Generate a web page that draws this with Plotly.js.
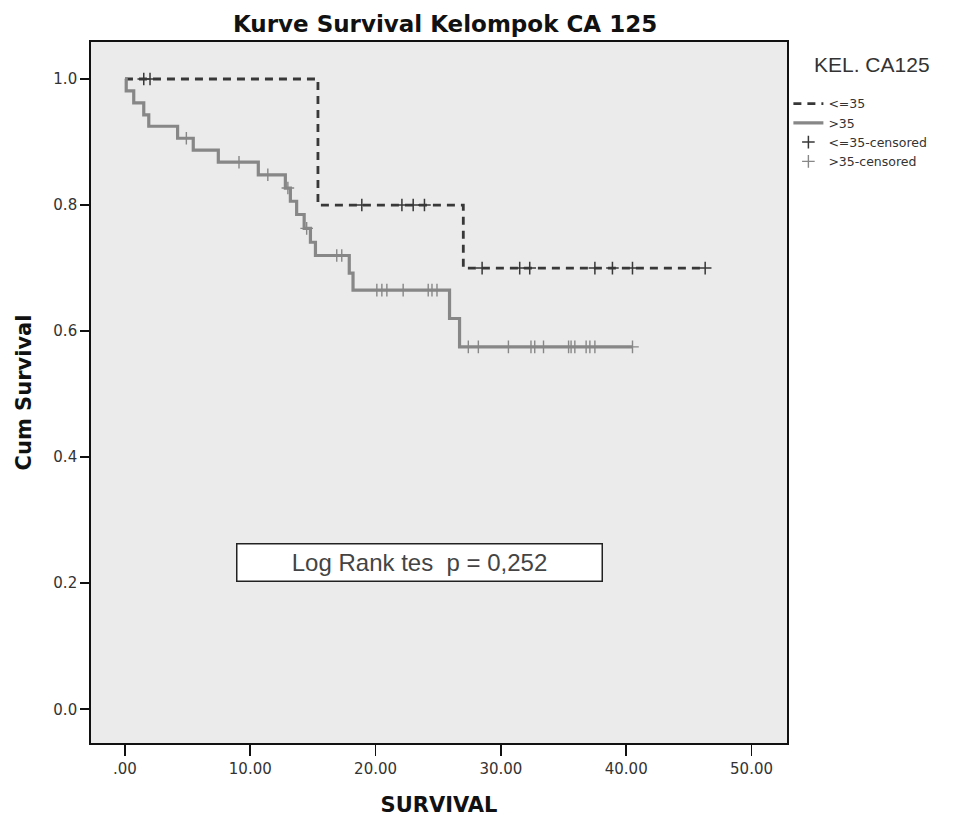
<!DOCTYPE html>
<html>
<head>
<meta charset="utf-8">
<script src="https://cdn.plot.ly/plotly-3.0.1.min.js"></script>
<style>html,body{margin:0;padding:0;background:#fff;}#chart{width:955px;height:819px;}</style>
</head>
<body>
<div id="chart"></div>
<script>
// Group "<=35" (step curve)
const lowTime = [0, 15.4, 27.0, 46.3];
const lowSurv = [1.0, 0.8, 0.7, 0.7];
// Group "<=35" censored
const lowCensTime = [1.5, 2.0, 18.9, 22.1, 23.0, 23.9, 28.5, 31.5, 32.3, 37.5, 38.9, 40.5, 46.3];
const lowCensSurv = [1.0, 1.0, 0.8, 0.8, 0.8, 0.8, 0.7, 0.7, 0.7, 0.7, 0.7, 0.7, 0.7];
// Group ">35" (step curve)
const highTime = [0, 0.1, 0.7, 1.5, 1.9, 4.2, 5.45, 7.45, 10.64, 12.8, 13.2, 13.7, 14.3, 14.8, 15.2, 17.9, 18.2, 25.9, 26.7, 40.5];
const highSurv = [1.0, 0.981, 0.962, 0.943, 0.925, 0.906, 0.887, 0.868, 0.848, 0.827, 0.806, 0.785, 0.763, 0.741, 0.72, 0.692, 0.665, 0.62, 0.575, 0.575];
// Group ">35" censored
const highCensTime = [4.9, 9.1, 11.4, 13.0, 14.5, 16.9, 17.3, 20.1, 20.5, 20.9, 22.2, 24.2, 24.5, 24.9, 27.4, 28.2, 30.6, 32.4, 32.7, 33.4, 35.4, 35.6, 35.9, 36.8, 37.1, 37.5, 40.5];
const highCensSurv = [0.906, 0.868, 0.848, 0.827, 0.763, 0.72, 0.72, 0.665, 0.665, 0.665, 0.665, 0.665, 0.665, 0.665, 0.575, 0.575, 0.575, 0.575, 0.575, 0.575, 0.575, 0.575, 0.575, 0.575, 0.575, 0.575, 0.575];

const seriesNames = ["<=35", ">35", "<=35-censored", ">35-censored"];
const xTickVals = [0, 10, 20, 30, 40, 50];
const xTickText = [".00", "10.00", "20.00", "30.00", "40.00", "50.00"];
const yTickVals = [0, 0.2, 0.4, 0.6, 0.8, 1.0];
const yTickText = ["0.0", "0.2", "0.4", "0.6", "0.8", "1.0"];
const titleText = "Kurve Survival Kelompok CA 125";
const xTitle = "SURVIVAL";
const yTitle = "Cum Survival";
const legendTitle = "KEL. CA125";
const noteText = "Log Rank tes  p = 0,252";

const darkCol = "#383838";
const grayCol = "#878787";
const font = "Liberation Sans, Arial, sans-serif";
const wide = "DejaVu Sans, Liberation Sans, sans-serif";

const traces = [
  {x: lowTime, y: lowSurv, name: seriesNames[0], mode: "lines", line: {shape: "hv", color: darkCol, width: 2.8, dash: "8px,6px"}},
  {x: highTime, y: highSurv, name: seriesNames[1], mode: "lines", line: {shape: "hv", color: grayCol, width: 3.2}},
  {x: lowCensTime, y: lowCensSurv, name: seriesNames[2], mode: "markers", marker: {symbol: "cross-thin", size: 9, line: {color: darkCol, width: 1.5}}},
  {x: highCensTime, y: highCensSurv, name: seriesNames[3], mode: "markers", marker: {symbol: "cross-thin", size: 9, line: {color: grayCol, width: 1.4}}}
];

const layout = {
  width: 955, height: 819,
  margin: {l: 91, r: 168, t: 42, b: 76},
  paper_bgcolor: "#ffffff",
  plot_bgcolor: "#ebebeb",
  font: {family: wide, color: "#333", size: 15},
  title: {text: "<b>" + titleText + "</b>", font: {family: wide, size: 23, color: "#111"}, x: 0.466, xanchor: "center", y: 0.971, yanchor: "middle"},
  xaxis: {
    range: [-2.71, 52.83], tickvals: xTickVals, ticktext: xTickText,
    showgrid: false, zeroline: false, showline: true, mirror: true,
    linecolor: "#111", linewidth: 1.8, ticks: "outside", ticklen: 11, tickwidth: 1.8, tickcolor: "#111",
    tickfont: {family: wide, size: 15, color: "#333"},
    title: {text: "<b>" + xTitle + "</b>", font: {family: wide, size: 21, color: "#111"}, standoff: 20}
  },
  yaxis: {
    range: [-0.0535, 1.0587], tickvals: yTickVals, ticktext: yTickText,
    showgrid: false, zeroline: false, showline: true, mirror: true,
    linecolor: "#111", linewidth: 1.8, ticks: "outside", ticklen: 9, tickwidth: 1.8, tickcolor: "#111",
    tickfont: {family: wide, size: 15, color: "#333"},
    title: {text: "<b>" + yTitle + "</b>", font: {family: wide, size: 21, color: "#111"}, standoff: 16}
  },
  showlegend: true,
  legend: {
    x: 1.002, xanchor: "left", y: 0.933, yanchor: "top",
    bgcolor: "rgba(0,0,0,0)", font: {family: wide, size: 12.5, color: "#333"},
    itemwidth: 30, tracegroupgap: 0
  },
  annotations: [
    {
      xref: "paper", yref: "paper", x: 1.122, y: 0.9686, xanchor: "center", yanchor: "middle",
      text: legendTitle, showarrow: false,
      font: {size: 21, color: "#333", family: font}
    },
    {
      xref: "paper", yref: "paper", x: 0.4727, y: 0.2578, xanchor: "center", yanchor: "middle",
      text: noteText, showarrow: false, width: 362, height: 34,
      bgcolor: "#ffffff", bordercolor: "#222", borderwidth: 1.5,
      font: {size: 24, color: "#444", family: font}
    }
  ]
};

Plotly.newPlot("chart", traces, layout, {displayModeBar: false, staticPlot: true});
</script>
</body>
</html>
